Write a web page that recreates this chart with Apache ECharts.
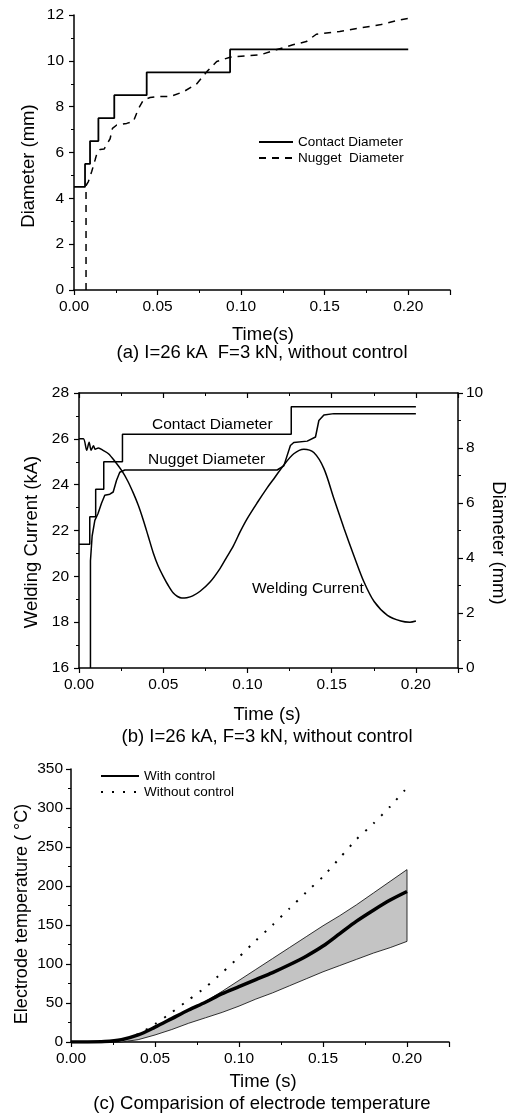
<!DOCTYPE html>
<html><head><meta charset="utf-8">
<script src="https://cdn.jsdelivr.net/npm/echarts@6/dist/echarts.min.js"></script>
<style>html,body{margin:0;padding:0;background:#fff}#c{width:508px;height:1117px}</style>
</head><body><div id="c"></div>
<script>
const FONT = '"Liberation Sans", Arial, sans-serif';

// ---------- Panel (a) ----------
const aContactT = [0, 0.0066, 0.0096, 0.0146, 0.0241, 0.0435, 0.0934, 0.20];
const aContactD = [4.5, 5.5, 6.5, 7.5, 8.5, 9.5, 10.5, 10.5];
const aNuggetT = [0.0072, 0.0072, 0.0086, 0.0106, 0.0126, 0.014, 0.0156, 0.018, 0.0216, 0.023, 0.0256, 0.0315, 0.0355, 0.0385, 0.0415, 0.0455, 0.0495, 0.0575, 0.0655, 0.0735, 0.0795, 0.0854, 0.0934, 0.1114, 0.121, 0.131, 0.139, 0.145, 0.159, 0.171, 0.183, 0.195, 0.20];
const aNuggetD = [0, 4.56, 4.73, 5.17, 5.67, 6.03, 6.13, 6.15, 6.6, 7.05, 7.2, 7.27, 7.35, 7.9, 8.29, 8.4, 8.44, 8.44, 8.65, 9.0, 9.53, 9.97, 10.16, 10.26, 10.48, 10.7, 10.84, 11.16, 11.28, 11.43, 11.57, 11.79, 11.85];

// ---------- Panel (b) ----------
const bCurrentT = [0, 0.0026, 0.0046, 0.006, 0.0072, 0.0086, 0.0096, 0.0115, 0.0143, 0.0175, 0.0215, 0.0255, 0.029, 0.0322, 0.0352, 0.0381, 0.0411, 0.0441, 0.047, 0.05, 0.053, 0.056, 0.0585, 0.061, 0.064, 0.0675, 0.0719, 0.0778, 0.0838, 0.0878, 0.0918, 0.0957, 0.0997, 0.1057, 0.1116, 0.1156, 0.1215, 0.1275, 0.1335, 0.1394, 0.1454, 0.1513, 0.1573, 0.1632, 0.1692, 0.1752, 0.1831, 0.1911, 0.1965, 0.20];
const bCurrentKA = [26.0, 26.0, 25.5, 25.85, 25.5, 25.7, 25.55, 25.6, 25.5, 25.35, 25.0, 24.6, 24.15, 23.64, 23.1, 22.47, 21.75, 21.02, 20.45, 20.0, 19.6, 19.27, 19.12, 19.05, 19.07, 19.15, 19.35, 19.75, 20.35, 20.85, 21.35, 21.95, 22.5, 23.2, 23.85, 24.25, 24.85, 25.35, 25.55, 25.4, 24.7, 23.4, 22.1, 20.9, 19.75, 18.9, 18.3, 18.05, 18.0, 18.05];
const bContactT = [0, 0.0064, 0.0099, 0.0147, 0.0258, 0.126, 0.20];
const bContactD = [4.5, 5.5, 6.5, 7.5, 8.5, 9.5, 9.5];
const bNuggetT = [0.0068, 0.0068, 0.0078, 0.0094, 0.0113, 0.0133, 0.0153, 0.0183, 0.0203, 0.0223, 0.0242, 0.0272, 0.1176, 0.1216, 0.1255, 0.1275, 0.1355, 0.1404, 0.1424, 0.1454, 0.1513, 0.20];
const bNuggetD = [0, 3.9, 4.8, 5.37, 5.62, 5.98, 6.28, 6.32, 6.4, 6.83, 7.12, 7.2, 7.2, 7.35, 8.09, 8.2, 8.25, 8.4, 9.0, 9.2, 9.25, 9.25];

// ---------- Panel (c) ----------
const cT = [0, 0.01, 0.02, 0.03, 0.04, 0.05, 0.06, 0.07, 0.08, 0.09, 0.10, 0.11, 0.12, 0.13, 0.14, 0.15, 0.16, 0.17, 0.18, 0.19, 0.20];
const cWith = [0, 0, 0.5, 3, 9, 19, 30, 41, 51, 62, 71, 80, 89, 99, 110, 123, 139, 155, 169, 182, 193];
const cWithout = [0, 0, 0.5, 3, 10, 23, 38, 54, 70, 89, 109, 130, 150, 171, 192, 212, 236, 260, 280, 302, 326];
const cBandLow = [0, 0, 0, 0, 3, 9, 16, 24, 31, 38, 46, 55, 63, 72, 81, 90, 98, 106, 114, 121, 129];
const cBandHigh = [0, 0, 0.5, 3, 9, 19, 30, 41, 52, 65, 79, 93, 107, 121, 135, 149, 162, 176, 191, 206, 221];

// tick labels
const timeTicks = ['0.00', '0.05', '0.10', '0.15', '0.20'];

const zip = (xs, ys) => xs.map((x, i) => [x, ys[i]]);

const lineAx = {show: true, onZero: false, lineStyle: {color: '#000', width: 1.5}};
const tickAx = {show: true, length: 5, lineStyle: {color: '#000', width: 1.2}};
const minorAx = {show: true, splitNumber: 2, length: 3, lineStyle: {color: '#000', width: 1}};
const lab = (margin, extra) => Object.assign({color: '#000', fontFamily: FONT, fontSize: 15.5, margin: margin}, extra || {});

function timeAxis(grid, extra) {
  return Object.assign({
    type: 'value', gridIndex: grid, min: 0, max: 0.225, interval: 0.05,
    axisLine: lineAx, axisTick: tickAx, minorTick: minorAx, splitLine: {show: false},
    axisLabel: lab(9, {showMaxLabel: false, formatter: v => timeTicks[Math.round(v / 0.05)] || ''})
  }, extra || {});
}
function valAxis(grid, min, max, interval, extra) {
  return Object.assign({
    type: 'value', gridIndex: grid, min: min, max: max, interval: interval,
    axisLine: lineAx, axisTick: tickAx, minorTick: minorAx, splitLine: {show: false},
    axisLabel: lab(10)
  }, extra || {});
}

const blk = '#000';
const legendBase = {orient: 'vertical', padding: 0, itemHeight: 14, itemGap: 2, selectedMode: false,
  itemStyle: {opacity: 0}, textStyle: {fontFamily: FONT, fontSize: 13.5, color: '#000'}};

const option = {
  animation: false,
  backgroundColor: '#fff',
  grid: [
    {left: 74, top: 15, width: 376, height: 275},
    {left: 79, top: 393, width: 379, height: 275},
    {left: 71, top: 769, width: 378, height: 273}
  ],
  xAxis: [
    timeAxis(0),
    timeAxis(1),
    timeAxis(1, {position: 'top', axisLabel: {show: false}, axisTick: Object.assign({}, tickAx, {inside: true}), minorTick: Object.assign({}, minorAx, {inside: true})}),
    timeAxis(2)
  ],
  yAxis: [
    valAxis(0, 0, 12, 2),
    valAxis(1, 16, 28, 2),
    valAxis(1, 0, 10, 2, {position: 'right', axisLabel: lab(8)}),
    valAxis(2, 0, 350, 50, {axisLabel: lab(8)})
  ],
  legend: [
    Object.assign({}, legendBase, {data: ['Contact Diameter', 'Nugget  Diameter'], left: 258, top: 135, itemWidth: 34}),
    Object.assign({}, legendBase, {data: ['With control', 'Without control'], left: 100, top: 769, itemWidth: 38})
  ],
  series: [
    // (a)
    {type: 'line', name: 'Contact Diameter', xAxisIndex: 0, yAxisIndex: 0, data: zip(aContactT, aContactD),
     step: 'end', symbol: 'none', lineStyle: {color: blk, width: 1.8}, itemStyle: {color: blk}},
    {type: 'line', name: 'Nugget  Diameter', xAxisIndex: 0, yAxisIndex: 0, data: zip(aNuggetT, aNuggetD),
     symbol: 'none', lineStyle: {color: blk, width: 1.5, type: [7, 6]}, itemStyle: {color: blk}},
    // (b)
    {type: 'line', name: 'b-current', xAxisIndex: 1, yAxisIndex: 1, data: zip(bCurrentT, bCurrentKA),
     symbol: 'none', smooth: 0.3, lineStyle: {color: blk, width: 1.5}},
    {type: 'line', name: 'b-contact', xAxisIndex: 1, yAxisIndex: 2, data: zip(bContactT, bContactD),
     step: 'end', symbol: 'none', lineStyle: {color: blk, width: 1.5}},
    {type: 'line', name: 'b-nugget', xAxisIndex: 1, yAxisIndex: 2, data: zip(bNuggetT, bNuggetD),
     symbol: 'none', lineStyle: {color: blk, width: 1.5}},
    // (c) scatter band between lower and upper bounds
    {type: 'custom', name: 'band', xAxisIndex: 3, yAxisIndex: 3, silent: true,
     data: cT.map((t, i) => [t, cBandLow[i], cBandHigh[i]]),
     encode: {x: 0, y: [1, 2]},
     renderItem: function (params, api) {
       if (params.dataIndexInside !== 0) return null;
       const n = cT.length, pts = [];
       for (let j = 0; j < n; j++) pts.push(api.coord([api.value(0, j), api.value(1, j)]));
       for (let j = n - 1; j >= 0; j--) pts.push(api.coord([api.value(0, j), api.value(2, j)]));
       return {type: 'polygon', shape: {points: pts}, style: {fill: '#c4c4c4', stroke: '#000', lineWidth: 0.8}};
     }},
    {type: 'line', name: 'Without control', xAxisIndex: 3, yAxisIndex: 3, data: zip(cT, cWithout),
     symbol: 'none', smooth: 0.2, lineStyle: {color: blk, width: 2, type: [2, 9]}, itemStyle: {color: blk}},
    {type: 'line', name: 'With control', xAxisIndex: 3, yAxisIndex: 3, data: zip(cT, cWith),
     symbol: 'none', smooth: 0.3, lineStyle: {color: blk, width: 3.5}, itemStyle: {color: blk}}
  ],
  graphic: [
    // (a)
    {type: 'text', x: 29, y: 166, rotation: Math.PI / 2, style: {text: 'Diameter (mm)', font: '18.5px ' + FONT, fill: '#000', textAlign: 'center', textVerticalAlign: 'middle'}},
    {type: 'text', x: 263, y: 335, style: {text: 'Time(s)', font: '18.5px ' + FONT, fill: '#000', textAlign: 'center', textVerticalAlign: 'middle'}},
    {type: 'text', x: 262, y: 353, style: {text: '(a) I=26 kA  F=3 kN, without control', font: '18.5px ' + FONT, fill: '#000', textAlign: 'center', textVerticalAlign: 'middle'}},
    // (b)
    {type: 'text', x: 32, y: 542, rotation: Math.PI / 2, style: {text: 'Welding Current (kA)', font: '18.5px ' + FONT, fill: '#000', textAlign: 'center', textVerticalAlign: 'middle'}},
    {type: 'text', x: 498, y: 543, rotation: -Math.PI / 2, style: {text: 'Diameter (mm)', font: '18.5px ' + FONT, fill: '#000', textAlign: 'center', textVerticalAlign: 'middle'}},
    {type: 'text', x: 152, y: 425, style: {text: 'Contact Diameter', font: '15.5px ' + FONT, fill: '#000', textAlign: 'left', textVerticalAlign: 'middle'}},
    {type: 'text', x: 148, y: 460, style: {text: 'Nugget Diameter', font: '15.5px ' + FONT, fill: '#000', textAlign: 'left', textVerticalAlign: 'middle'}},
    {type: 'text', x: 252, y: 589, style: {text: 'Welding Current', font: '15.5px ' + FONT, fill: '#000', textAlign: 'left', textVerticalAlign: 'middle'}},
    {type: 'text', x: 267, y: 715, style: {text: 'Time (s)', font: '18.5px ' + FONT, fill: '#000', textAlign: 'center', textVerticalAlign: 'middle'}},
    {type: 'text', x: 267, y: 737, style: {text: '(b) I=26 kA, F=3 kN, without control', font: '18.5px ' + FONT, fill: '#000', textAlign: 'center', textVerticalAlign: 'middle'}},
    // (c)
    {type: 'text', x: 22, y: 914, rotation: Math.PI / 2, style: {text: 'Electrode temperature ( °C)', font: '18px ' + FONT, fill: '#000', textAlign: 'center', textVerticalAlign: 'middle'}},
    {type: 'text', x: 263, y: 1082, style: {text: 'Time (s)', font: '18.5px ' + FONT, fill: '#000', textAlign: 'center', textVerticalAlign: 'middle'}},
    {type: 'text', x: 262, y: 1104, style: {text: '(c) Comparision of electrode temperature', font: '18.5px ' + FONT, fill: '#000', textAlign: 'center', textVerticalAlign: 'middle'}}
  ]
};
const chart = echarts.init(document.getElementById('c'), null, {renderer: 'canvas'});
chart.setOption(option);
</script>
</body></html>
